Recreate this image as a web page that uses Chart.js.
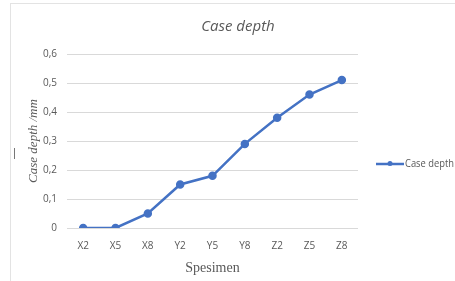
<!DOCTYPE html>
<html>
<head>
<meta charset="utf-8">
<script src="https://cdn.jsdelivr.net/npm/chart.js@4/dist/chart.umd.min.js"></script>
<style>
  html, body { margin: 0; padding: 0; background: #fff; }
  #wrap { position: relative; width: 455px; height: 281px; }
  #frame { position: absolute; left: 10px; top: 3px; width: 450px; height: 290px; border: 1px solid #e3e3e3; }
  #mark { position: absolute; left: 14px; top: 148px; width: 1px; height: 11px; background: #777; }
  canvas { position: absolute; left: 0; top: 0; }
</style>
</head>
<body>
<div id="wrap">
  <div id="frame"></div>
  <div id="mark"></div>
  <canvas id="chart" width="455" height="281"></canvas>
</div>
<script>
const specimens = ['X2', 'X5', 'X8', 'Y2', 'Y5', 'Y8', 'Z2', 'Z5', 'Z8'];
const caseDepth = [0, 0, 0.05, 0.15, 0.18, 0.29, 0.38, 0.46, 0.51];
const seriesName = 'Case depth';
const chartTitle = 'Case depth';
const lineColor = '#4472C4';
const textGray = '#595959';
const sansFont = '"Open Sans", sans-serif';

// title and legend drawn by hand so they sit where the original has them
const decorations = {
    id: 'decorations',
    afterDraw(chart) {
        const ctx = chart.ctx;
        ctx.save();
        ctx.fillStyle = textGray;
        ctx.font = 'italic 15px ' + sansFont;
        ctx.textAlign = 'center';
        ctx.textBaseline = 'middle';
        ctx.fillText(chartTitle, 238, 27);

        const y = 164;
        ctx.strokeStyle = lineColor;
        ctx.lineWidth = 2.5;
        ctx.beginPath();
        ctx.moveTo(376, y);
        ctx.lineTo(404, y);
        ctx.stroke();
        ctx.fillStyle = lineColor;
        ctx.beginPath();
        ctx.arc(390, y - 0.5, 2.5, 0, Math.PI * 2);
        ctx.fill();

        // squeeze the label so it fits like the narrow original font
        ctx.fillStyle = textGray;
        ctx.font = '11px ' + sansFont;
        ctx.textAlign = 'left';
        const w = ctx.measureText(seriesName).width;
        ctx.translate(405, y);
        ctx.scale(49 / w, 1);
        ctx.fillText(seriesName, 0, 0);
        ctx.restore();
    }
};

new Chart(document.getElementById('chart'), {
    type: 'line',
    data: {
        labels: specimens,
        datasets: [{
            label: seriesName,
            data: caseDepth,
            borderColor: lineColor,
            backgroundColor: lineColor,
            borderWidth: 2.5,
            pointRadius: 3,
            pointHoverRadius: 3,
            tension: 0
        }]
    },
    options: {
        responsive: false,
        animation: false,
        layout: { padding: { left: 26, right: 97, top: 54, bottom: 0 } },
        plugins: {
            legend: { display: false },
            tooltip: { enabled: false },
            title: { display: false }
        },
        scales: {
            x: {
                offset: true,
                grid: { display: false, drawTicks: false },
                border: { display: false },
                ticks: { color: textGray, font: { family: sansFont, size: 10 }, padding: 12 },
                title: {
                    display: true,
                    text: 'Spesimen',
                    color: textGray,
                    font: { family: '"Liberation Serif", serif', size: 14 },
                    padding: { top: 1 }
                },
                afterFit(scale) { scale.height = 53; }
            },
            y: {
                min: 0,
                max: 0.6,
                ticks: {
                    stepSize: 0.1,
                    color: textGray,
                    padding: 10,
                    font: { family: sansFont, size: 10 },
                    callback: v => v === 0 ? '0' : v.toFixed(1).replace('.', ',')
                },
                grid: { color: '#d9d9d9', drawTicks: false },
                border: { display: false },
                title: {
                    display: true,
                    text: 'Case depth /mm',
                    color: textGray,
                    font: { family: '"Liberation Serif", serif', size: 13, style: 'italic' },
                    padding: { top: 0, bottom: 0 }
                },
                afterFit(scale) { scale.width = 41; }
            }
        }
    },
    plugins: [decorations]
});
</script>
</body>
</html>
